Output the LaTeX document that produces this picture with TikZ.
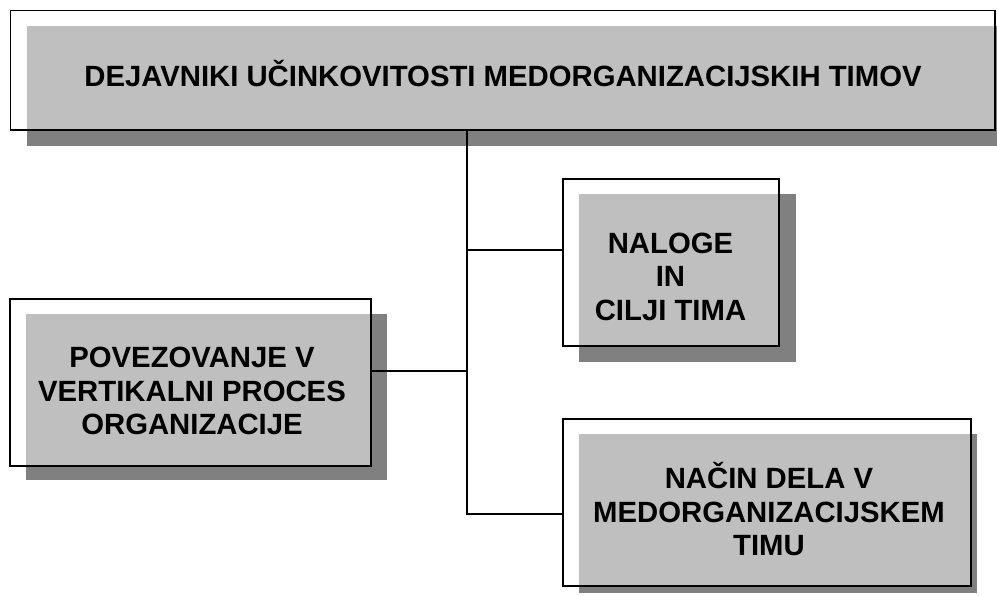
\documentclass[tikz,border=0pt]{standalone}
\usepackage{fontspec}
\setmainfont{Liberation Sans}
\usepackage{xcolor}
\definecolor{lightgrey}{gray}{0.75}
\definecolor{darkgrey}{gray}{0.5}

\begin{document}
\begin{tikzpicture}[x=1pt, y=-1pt,
    outline/.style={draw=black, line width=1.8pt, inner sep=0pt},
    label/.style={font=\fontsize{29.3}{33.5}\selectfont\bfseries, align=center, inner sep=0pt},
    link/.style={draw=black, line width=1.8pt}]
    \useasboundingbox (0,0) rectangle (997,595);

    % Top box: shadow, grey face, outline
    \fill[darkgrey] (27,26) rectangle (997,146);
    \fill[lightgrey] (27,26) rectangle (995,130);
    \node[outline, minimum width=984.5pt, minimum height=119.5pt] (title) at (502.75,70.25) {};
    \node[label, text height=21pt, text depth=0pt] (titletext) at (503,75.5)
        {DEJAVNIKI UČINKOVITOSTI MEDORGANIZACIJSKIH TIMOV};

    % Tasks and goals
    \fill[darkgrey] (579,194) rectangle (796,362);
    \fill[lightgrey] (579,194) rectangle (779,346);
    \node[outline, minimum width=216pt, minimum height=167pt] (naloge) at (671,262.5) {};
    \node[label] (nalogetext) at (670.5,276.5) {NALOGE\\IN\\CILJI TIMA};

    % Vertical process
    \fill[darkgrey] (26,314) rectangle (387,480);
    \fill[lightgrey] (26,314) rectangle (371,466);
    \node[outline, minimum width=361pt, minimum height=167pt] (povez) at (190.5,382.5) {};
    \node[label] (poveztext) at (192,391) {POVEZOVANJE V\\VERTIKALNI PROCES\\ORGANIZACIJE};

    % Way of working
    \fill[darkgrey] (579,434) rectangle (977,593);
    \fill[lightgrey] (579,434) rectangle (971,586);
    \node[outline, minimum width=408pt, minimum height=167pt] (nacin) at (767,502.5) {};
    \node[label] (nacintext) at (769,509.5) {NAČIN DELA V\\MEDORGANIZACIJSKEM\\TIMU};

    % Connector points
    \coordinate (trunk) at (467,130);
    \coordinate (nalogein) at (563,250);
    \coordinate (povezout) at (371,371);
    \coordinate (nacinin) at (563,514);

    % Connectors
    \draw[link] (trunk) -- (trunk |- nacinin) -- (nacinin);
    \draw[link] (trunk |- nalogein) -- (nalogein);
    \draw[link] (povezout) -- (trunk |- povezout);
\end{tikzpicture}
\end{document}
